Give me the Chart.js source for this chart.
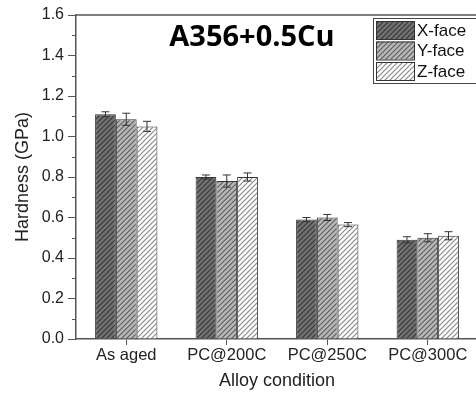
<!DOCTYPE html>
<html>
<head>
<meta charset="utf-8">
<script src="https://cdn.jsdelivr.net/npm/chart.js@4"></script>
<style>
  html, body { margin: 0; padding: 0; background: #fff; overflow: hidden; }
  #wrap { width: 476px; height: 396px; overflow: hidden; }
</style>
</head>
<body>
<div id="wrap"><canvas id="chart" width="478" height="396"></canvas></div>
<script>
const categories = ["As aged", "PC@200C", "PC@250C", "PC@300C"];
const seriesNames = ["X-face", "Y-face", "Z-face"];
const xFace = [1.11, 0.80, 0.59, 0.49];
const yFace = [1.085, 0.78, 0.60, 0.50];
const zFace = [1.05, 0.80, 0.565, 0.51];
const xErr = [0.012, 0.01, 0.01, 0.015];
const yErr = [0.03, 0.03, 0.015, 0.02];
const zErr = [0.025, 0.02, 0.01, 0.02];
const yTicks = [0.0, 0.2, 0.4, 0.6, 0.8, 1.0, 1.2, 1.4, 1.6];

const FONT = "'Liberation Sans', Arial, sans-serif";

function hatch(base, stripe) {
  const c = document.createElement("canvas");
  c.width = 5; c.height = 5;
  const g = c.getContext("2d");
  g.fillStyle = base;
  g.fillRect(0, 0, 5, 5);
  g.strokeStyle = stripe;
  g.lineWidth = 1.2;
  g.beginPath();
  g.moveTo(-1, 6); g.lineTo(6, -1);
  g.moveTo(-1, 1); g.lineTo(1, -1);
  g.moveTo(4, 6); g.lineTo(6, 4);
  g.stroke();
  return g.createPattern(c, "repeat");
}

const ctx = document.getElementById("chart").getContext("2d");
const fills = [hatch("#727272", "#383838"), hatch("#b8b8b8", "#5e5e5e"), hatch("#ffffff", "#8a8a8a")];
const errs = [xErr, yErr, zErr];

const errorBars = {
  id: "errorBars",
  afterDatasetsDraw(chart) {
    const c = chart.ctx, y = chart.scales.y;
    c.save();
    c.strokeStyle = "#333";
    c.lineWidth = 1;
    chart.data.datasets.forEach((ds, i) => {
      chart.getDatasetMeta(i).data.forEach((bar, j) => {
        const v = ds.data[j], e = errs[i][j];
        const top = y.getPixelForValue(v + e), bot = y.getPixelForValue(v - e);
        c.beginPath();
        c.moveTo(bar.x, top); c.lineTo(bar.x, bot);
        c.moveTo(bar.x - 4, top); c.lineTo(bar.x + 4, top);
        c.moveTo(bar.x - 4, bot); c.lineTo(bar.x + 4, bot);
        c.stroke();
      });
    });
    c.restore();
  }
};

const extras = {
  id: "extras",
  afterDraw(chart) {
    const c = chart.ctx, y = chart.scales.y, a = chart.chartArea;
    c.save();
    // top frame line
    c.strokeStyle = "#555";
    c.lineWidth = 1.5;
    c.beginPath();
    c.moveTo(a.left, a.top); c.lineTo(a.right, a.top);
    c.stroke();
    // minor ticks
    c.lineWidth = 1;
    for (let k = 0; k < yTicks.length - 1; k++) {
      const py = Math.round(y.getPixelForValue(yTicks[k] + 0.1)) + 0.5;
      c.beginPath();
      c.moveTo(a.left - 4, py); c.lineTo(a.left, py);
      c.stroke();
    }
    // title
    c.fillStyle = "#000";
    c.font = "bold 29px 'Open Sans', 'Noto Sans', sans-serif";
    c.textAlign = "center";
    c.textBaseline = "middle";
    c.fillText("A356+0.5Cu", 252, 38);
    // legend
    c.strokeStyle = "#444";
    c.lineWidth = 1;
    c.strokeRect(373.5, 18.5, 110, 65);
    c.font = "17px " + FONT;
    c.textAlign = "left";
    seriesNames.forEach((n, i) => {
      const top = 21 + i * 20.5;
      c.fillStyle = fills[i];
      c.fillRect(376, top, 38, 18);
      c.strokeStyle = "#333";
      c.strokeRect(376.5, top + 0.5, 38, 18);
      c.fillStyle = "#111";
      c.fillText(n, 417, top + 10);
    });
    c.restore();
  }
};

new Chart(ctx, {
  type: "bar",
  data: {
    labels: categories,
    datasets: [xFace, yFace, zFace].map((d, i) => ({
      label: seriesNames[i],
      data: d,
      backgroundColor: fills[i],
      borderColor: "#333",
      borderWidth: 1,
      categoryPercentage: 0.62,
      barPercentage: 1.0
    }))
  },
  options: {
    responsive: false,
    animation: false,
    layout: { padding: { top: 15, right: 0, left: 12, bottom: 0 } },
    plugins: { legend: { display: false }, tooltip: { enabled: false } },
    scales: {
      x: {
        grid: { display: true, drawOnChartArea: false, offset: false, tickLength: 6, color: "#555" },
        border: { color: "#555", width: 1.5 },
        ticks: { color: "#222", font: { size: 16.5, family: FONT }, padding: 1 },
        title: { display: true, text: "Alloy condition", color: "#222", font: { size: 18, family: FONT }, padding: { top: 5 } },
        afterFit: s => { s.height = 57; }
      },
      y: {
        min: 0, max: 1.6,
        afterBuildTicks: s => { s.ticks = yTicks.map(v => ({ value: v })); },
        grid: { display: true, drawOnChartArea: false, tickLength: 8, color: "#555" },
        border: { color: "#555", width: 1.5 },
        ticks: { color: "#222", font: { size: 16, family: FONT }, padding: 4, callback: v => v.toFixed(1) },
        title: { display: true, text: "Hardness (GPa)", color: "#222", font: { size: 18, family: FONT }, padding: { top: 0, bottom: 2 } },
        afterFit: s => { s.width = 64; }
      }
    }
  },
  plugins: [errorBars, extras]
});
</script>
</body>
</html>
